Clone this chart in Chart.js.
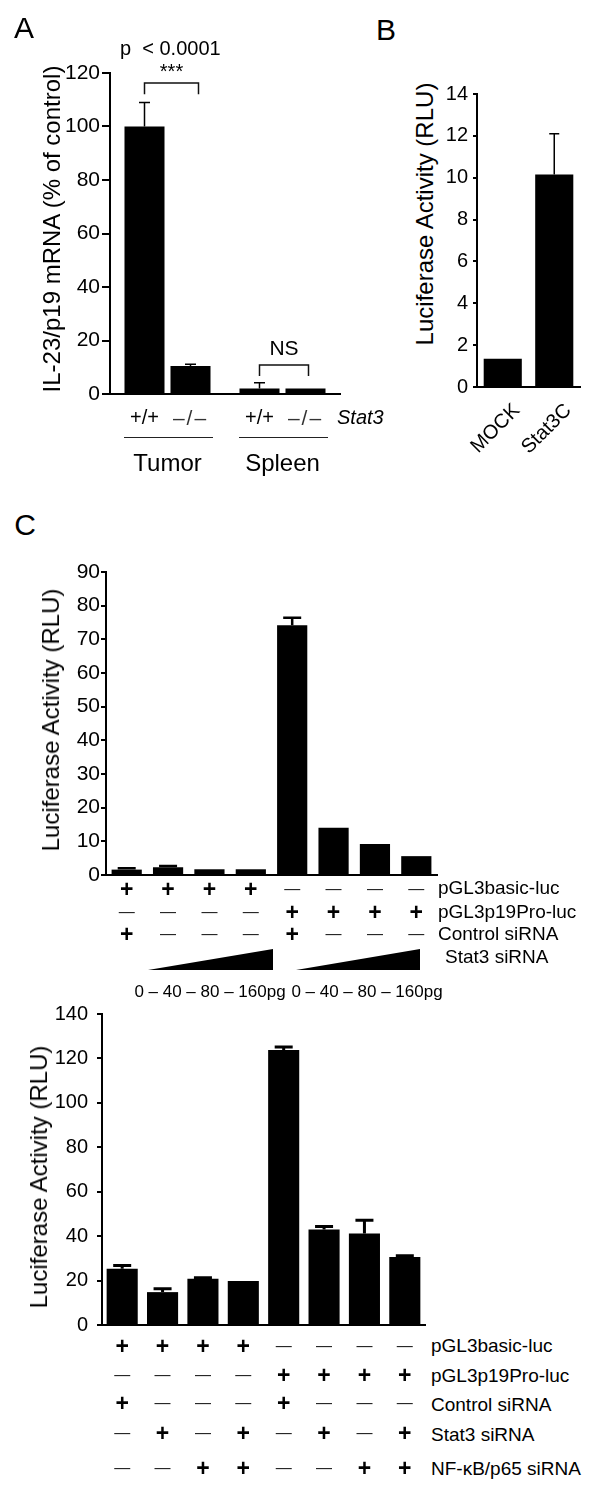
<!DOCTYPE html>
<html>
<head>
<meta charset="utf-8">
<script src="https://cdn.jsdelivr.net/npm/chart.js@4.4.0/dist/chart.umd.min.js"></script>
<style>
  body { margin: 0; background: #fff; }
  #fig { position: relative; width: 610px; height: 1498px; overflow: hidden; background: #fff;
         font-family: 'Liberation Sans', Arial, Helvetica, sans-serif; color: #000; }
  #fig canvas { position: absolute; }
  .t { position: absolute; white-space: pre; line-height: 1; }
  .rule { position: absolute; height: 0; border-top: 1.5px solid #222; }
  .wedge { position: absolute; background: #000; clip-path: polygon(0 100%, 100% 0, 100% 100%); }
</style>
</head>
<body>
<div id="fig">
  <canvas id="chartA" width="345" height="374" style="left:0;top:40px"></canvas>
  <canvas id="chartB" width="145" height="410" style="left:440px;top:60px"></canvas>
  <canvas id="chartC1" width="442" height="345" style="left:0;top:550px"></canvas>
  <canvas id="chartC2" width="430" height="360" style="left:0;top:990px"></canvas>
</div>
<script>
// Panel A - IL-23/p19 mRNA, Stat3 +/+ vs -/-
const aGroups = ['Tumor', 'Spleen'];
const aWildType = [100, 2.1];
const aWildTypeErr = [9, 2.1];
const aKnockout = [10.5, 2.1];
const aKnockoutErr = [0.6, 0];

// Panel B - luciferase, MOCK vs Stat3C
const bLabels = ['MOCK', 'Stat3C'];
const bValues = [1.35, 10.15];
const bErr = [0, 1.95];

// Panel C (upper) - Stat3 siRNA dose
const cLanes = ['1', '2', '3', '4', '5', '6', '7', '8'];
const cTopValues = [1.6, 2.3, 1.7, 1.7, 74.2, 14, 9.2, 5.6];
const cTopErr = [0.4, 0.4, 0, 0, 2.2, 0, 0, 0];
const cTopBasic = ['+', '+', '+', '+', '-', '-', '-', '-'];
const cTopPro = ['-', '-', '-', '-', '+', '+', '+', '+'];
const cTopControl = ['+', '-', '-', '-', '+', '-', '-', '-'];
const stat3Dose = '0 – 40 – 80 – 160pg';

// Panel C (lower) - Stat3 / NF-kB siRNA
const cBotValues = [25.3, 14.8, 20.8, 19.8, 123.8, 43, 41.2, 30.6];
const cBotErr = [1.5, 1.5, 0.5, 0, 1.3, 1.3, 6, 0.6];
const cBotBasic = ['+', '+', '+', '+', '-', '-', '-', '-'];
const cBotPro = ['-', '-', '-', '-', '+', '+', '+', '+'];
const cBotControl = ['+', '-', '-', '-', '+', '-', '-', '-'];
const cBotStat3 = ['-', '+', '-', '+', '-', '+', '-', '+'];
const cBotNfkb = ['-', '-', '+', '+', '-', '-', '+', '+'];

Chart.defaults.font.family = "'Liberation Sans', Arial, Helvetica, sans-serif";
Chart.defaults.color = '#000';

// Error bars (only the upper half, like the original)
const errorBars = {
  id: 'errorBars',
  afterDatasetsDraw(chart, args, opts) {
    const ctx = chart.ctx;
    const y = chart.scales.y;
    chart.data.datasets.forEach((ds, di) => {
      if (!ds.errors) return;
      chart.getDatasetMeta(di).data.forEach((bar, i) => {
        const e = ds.errors[i];
        if (!e) return;
        const top = y.getPixelForValue(ds.data[i] + e);
        ctx.save();
        ctx.strokeStyle = '#000';
        ctx.lineWidth = opts.width;
        ctx.beginPath();
        ctx.moveTo(bar.x, bar.y);
        ctx.lineTo(bar.x, top);
        ctx.moveTo(bar.x - opts.cap / 2, top);
        ctx.lineTo(bar.x + opts.cap / 2, top);
        ctx.stroke();
        ctx.restore();
      });
    });
  }
};

// Significance brackets for panel A
const brackets = {
  id: 'brackets',
  afterDatasetsDraw(chart, args, opts) {
    if (!opts.items) return;
    const ctx = chart.ctx;
    const y = chart.scales.y;
    opts.items.forEach(b => {
      const x1 = chart.getDatasetMeta(0).data[b.group].x;
      const x2 = chart.getDatasetMeta(1).data[b.group].x + b.shift;
      const top = y.getPixelForValue(b.level);
      const foot = y.getPixelForValue(b.level - b.leg);
      ctx.save();
      ctx.strokeStyle = '#111';
      ctx.lineWidth = 1.5;
      ctx.beginPath();
      ctx.moveTo(x1, foot);
      ctx.lineTo(x1, top);
      ctx.lineTo(x2, top);
      ctx.lineTo(x2, foot);
      ctx.stroke();
      ctx.restore();
    });
  }
};

function barChart(id, labels, datasets, o) {
  return new Chart(document.getElementById(id), {
    type: 'bar',
    data: { labels: labels, datasets: datasets },
    options: {
      responsive: false,
      animation: false,
      devicePixelRatio: 1,
      layout: { padding: { top: o.padTop, right: o.padRight, left: 0, bottom: 0 } },
      plugins: {
        legend: { display: false },
        tooltip: { enabled: false },
        errorBars: { width: o.errWidth, cap: o.cap },
        brackets: { items: o.brackets }
      },
      scales: {
        x: {
          grid: { display: false },
          border: { color: '#000', width: 2 },
          ticks: o.xTicks || { display: false },
          afterFit: s => { s.height = o.xHeight; }
        },
        y: {
          min: 0,
          max: o.max,
          ticks: { stepSize: o.step, font: { size: o.tickSize }, color: '#000', padding: o.tickPad },
          grid: { drawOnChartArea: false, color: '#000', lineWidth: 2, tickLength: o.tickLen },
          border: { color: '#000', width: 2 },
          afterFit: s => { s.width = o.yWidth; }
        }
      }
    },
    plugins: [errorBars, brackets]
  });
}

const black = { backgroundColor: '#000', borderWidth: 0 };

const chartA = barChart('chartA', aGroups, [
  { ...black, label: '+/+', data: aWildType, errors: aWildTypeErr, barPercentage: 0.87, categoryPercentage: 0.8 },
  { ...black, label: '−/−', data: aKnockout, errors: aKnockoutErr, barPercentage: 0.87, categoryPercentage: 0.8 }
], {
  padTop: 33, padRight: 5, yWidth: 110, xHeight: 20, max: 120, step: 20, tickSize: 21,
  tickPad: 2, tickLen: 8, errWidth: 1.5, cap: 11,
  brackets: [
    { group: 0, level: 116.3, leg: 4.2, shift: 8 },
    { group: 1, level: 10.8, leg: 4.1, shift: 3 }
  ]
});

const chartB = barChart('chartB', bLabels, [
  { ...black, data: bValues, errors: bErr, barPercentage: 0.74, categoryPercentage: 1 }
], {
  padTop: 34, padRight: 5, yWidth: 37, xHeight: 83, max: 14, step: 2, tickSize: 20,
  tickPad: 5, tickLen: 4, errWidth: 1.5, cap: 10,
  xTicks: { display: true, autoSkip: false, maxRotation: 45, minRotation: 45,
            font: { size: 20 }, color: '#000', padding: 4, labelOffset: 14 }
});

const chartC1 = barChart('chartC1', cLanes, [
  { ...black, data: cTopValues, errors: cTopErr, barPercentage: 0.73, categoryPercentage: 1 }
], {
  padTop: 22, padRight: 5, yWidth: 106, xHeight: 20, max: 90, step: 10, tickSize: 21,
  tickPad: 1, tickLen: 5, errWidth: 2.5, cap: 18
});

const chartC2 = barChart('chartC2', cLanes, [
  { ...black, data: cBotValues, errors: cBotErr, barPercentage: 0.77, categoryPercentage: 1 }
], {
  padTop: 24, padRight: 5, yWidth: 102, xHeight: 25, max: 140, step: 20, tickSize: 20,
  tickPad: 9, tickLen: 5, errWidth: 3, cap: 18
});

// Text overlays
const fig = document.getElementById('fig');

function addText(txt, x, y, o = {}) {
  const d = document.createElement('div');
  d.className = 't';
  d.textContent = txt;
  d.style.left = x + 'px';
  d.style.top = y + 'px';
  d.style.fontSize = (o.size || 20) + 'px';
  if (o.italic) d.style.fontStyle = 'italic';
  if (o.bold) d.style.fontWeight = 'bold';
  if (o.color) d.style.color = o.color;
  if (o.spacing) d.style.letterSpacing = o.spacing + 'px';
  const tx = o.align === 'left' ? '0' : '-50%';
  d.style.transform = 'translate(' + tx + ',-50%)' + (o.rotate ? ' rotate(' + o.rotate + 'deg)' : '');
  fig.appendChild(d);
  return d;
}

function addRule(x1, x2, y) {
  const d = document.createElement('div');
  d.className = 'rule';
  d.style.left = x1 + 'px';
  d.style.top = y + 'px';
  d.style.width = (x2 - x1) + 'px';
  fig.appendChild(d);
}

function addWedge(x1, x2, bottom, h) {
  const d = document.createElement('div');
  d.className = 'wedge';
  d.style.left = x1 + 'px';
  d.style.top = (bottom - h) + 'px';
  d.style.width = (x2 - x1) + 'px';
  d.style.height = h + 'px';
  fig.appendChild(d);
}

function signRow(chart, signs, y) {
  const ox = chart.canvas.offsetLeft;
  signs.forEach((s, i) => {
    const x = ox + chart.scales.x.getPixelForValue(i);
    if (s === '+') addText('+', x, y, { size: 23, bold: true });
    else addText('—', x, y, { size: 16, color: '#222' });
  });
}

// Panel letters
addText('A', 24, 28, { size: 30 });
addText('B', 386, 30, { size: 30 });
addText('C', 25, 525, { size: 30 });

// Axis titles
addText('IL-23/p19 mRNA (% of control)', 52, 229, { size: 24, rotate: -90 });
addText('Luciferase Activity (RLU)', 425, 214, { size: 24, rotate: -90 });
addText('Luciferase Activity (RLU)', 51, 720, { size: 24, rotate: -90 });
addText('Luciferase Activity (RLU)', 39, 1177, { size: 24, rotate: -90 });

// Panel A labels
(function () {
  const ox = chartA.canvas.offsetLeft, oy = chartA.canvas.offsetTop;
  const wt = chartA.getDatasetMeta(0).data, ko = chartA.getDatasetMeta(1).data;
  const y = chartA.scales.y;
  aGroups.forEach((g, i) => {
    addText('+/+', ox + wt[i].x, 417, { size: 20 });
    addText('–/–', ox + ko[i].x, 417, { size: 21, color: '#333', spacing: 2 });
    addRule(ox + wt[i].x - wt[i].width / 2, ox + ko[i].x + ko[i].width / 2 + 2, 437);
    addText(g, ox + (wt[i].x + ko[i].x) / 2, 463, { size: 24 });
  });
  addText('Stat3', 337, 417, { size: 20, italic: true, align: 'left' });
  addText('p  < 0.0001', 120, 48, { size: 20, align: 'left' });
  addText('***', ox + (wt[0].x + ko[0].x + 8) / 2, oy + y.getPixelForValue(116.3) - 12, { size: 20 });
  addText('NS', ox + (wt[1].x + ko[1].x + 3) / 2, oy + y.getPixelForValue(10.8) - 18, { size: 21 });
})();

// Panel C upper: condition table
signRow(chartC1, cTopBasic, 889);
signRow(chartC1, cTopPro, 912);
signRow(chartC1, cTopControl, 934);
addText('pGL3basic-luc', 438, 887, { size: 19, align: 'left' });
addText('pGL3p19Pro-luc', 438, 911, { size: 19, align: 'left' });
addText('Control siRNA', 438, 933, { size: 19, align: 'left' });
addText('Stat3 siRNA', 445, 956, { size: 19, align: 'left' });
addWedge(148, 273, 970, 21);
addWedge(296, 420, 970, 21);
addText(stat3Dose, 210, 991, { size: 17 });
addText(stat3Dose, 367, 991, { size: 17 });

// Panel C lower: condition table
signRow(chartC2, cBotBasic, 1346);
signRow(chartC2, cBotPro, 1375);
signRow(chartC2, cBotControl, 1403);
signRow(chartC2, cBotStat3, 1433);
signRow(chartC2, cBotNfkb, 1468);
addText('pGL3basic-luc', 431, 1345, { size: 19, align: 'left' });
addText('pGL3p19Pro-luc', 431, 1375, { size: 19, align: 'left' });
addText('Control siRNA', 431, 1404, { size: 19, align: 'left' });
addText('Stat3 siRNA', 431, 1434, { size: 19, align: 'left' });
addText('NF-κB/p65 siRNA', 431, 1468, { size: 19, align: 'left' });
</script>
</body>
</html>
